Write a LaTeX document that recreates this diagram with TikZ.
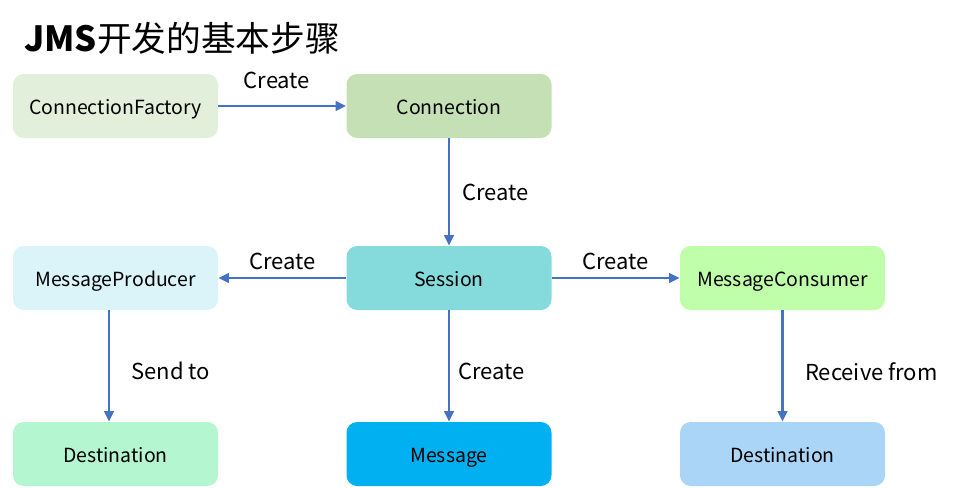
\documentclass[tikz,border=0pt]{standalone}
\usepackage{fontspec}
\setmainfont{Noto Sans CJK SC}
\usetikzlibrary{arrows.meta}
\usetikzlibrary{positioning}
\definecolor{arrowblue}{HTML}{4472C4}
\definecolor{cfgreen}{HTML}{E2EFDA}
\definecolor{conngreen}{HTML}{C5E0B4}
\definecolor{prodcyan}{HTML}{DAF4FA}
\definecolor{sesscyan}{HTML}{85DADC}
\definecolor{conslime}{HTML}{C0FFAA}
\definecolor{destgreen}{HTML}{B4F6D0}
\definecolor{msgblue}{HTML}{00B0F0}
\definecolor{destblue}{HTML}{ABD5F6}

\begin{document}
\begin{tikzpicture}[>={Triangle[length=8pt,width=7pt]},x=0.75pt,y=-0.75pt
  ,jmsbox/.style={rounded corners=8pt,minimum width=153.75pt,minimum height=48pt,
    inner sep=0pt,text height=13pt,text depth=0pt,font=\fontsize{14.6}{18}\selectfont},
  flow/.style={->,draw=arrowblue,line width=2pt},
  lbl/.style={font=\fontsize{16.5}{19}\selectfont,inner sep=0pt}]
\useasboundingbox (0,0) rectangle (967,487);
\node[anchor=west,inner sep=0pt,font=\fontsize{26}{30}\selectfont] (title) at (24,38)
  {\textbf{JMS}开发的基本步骤};
% first row
\node[jmsbox,fill=cfgreen] (factory) at (115.5,106) {ConnectionFactory};
\node[jmsbox,fill=conngreen] (connection) at (449,106) {Connection};
% second row
\node[jmsbox,fill=prodcyan] (producer) at (115.5,278) {MessageProducer};
\node[jmsbox,fill=sesscyan] (session) at (449,278) {Session};
\node[jmsbox,fill=conslime] (consumer) at (782.5,278) {MessageConsumer};
% third row
\node[jmsbox,fill=destgreen] (destleft) at (115.5,454) {Destination};
\node[jmsbox,fill=msgblue] (message) at (449,454) {Message};
\node[jmsbox,fill=destblue] (destright) at (782.5,454) {Destination};

\draw[flow] (factory) -- (connection) node[lbl,midway,above=12pt,xshift=-4pt] {Create};
\draw[flow] (connection) -- (session) node[lbl,midway,right=9pt] {Create};
\draw[flow] (session) -- (producer) node[lbl,midway,above=5pt] {Create};
\draw[flow] (session) -- (consumer) node[lbl,midway,above=5pt] {Create};
\draw[flow] (producer.south -| 109,0) -- (destleft.north -| 109,0)
  node[lbl,midway,right=16pt,yshift=-4pt] {Send to};
\draw[flow] (session) -- (message) node[lbl,midway,right=6pt,yshift=-4pt] {Create};
\draw[flow] (consumer) -- (destright)
  node[lbl,midway,right=16pt,yshift=-4pt] {Receive from};

\end{tikzpicture}
\end{document}
